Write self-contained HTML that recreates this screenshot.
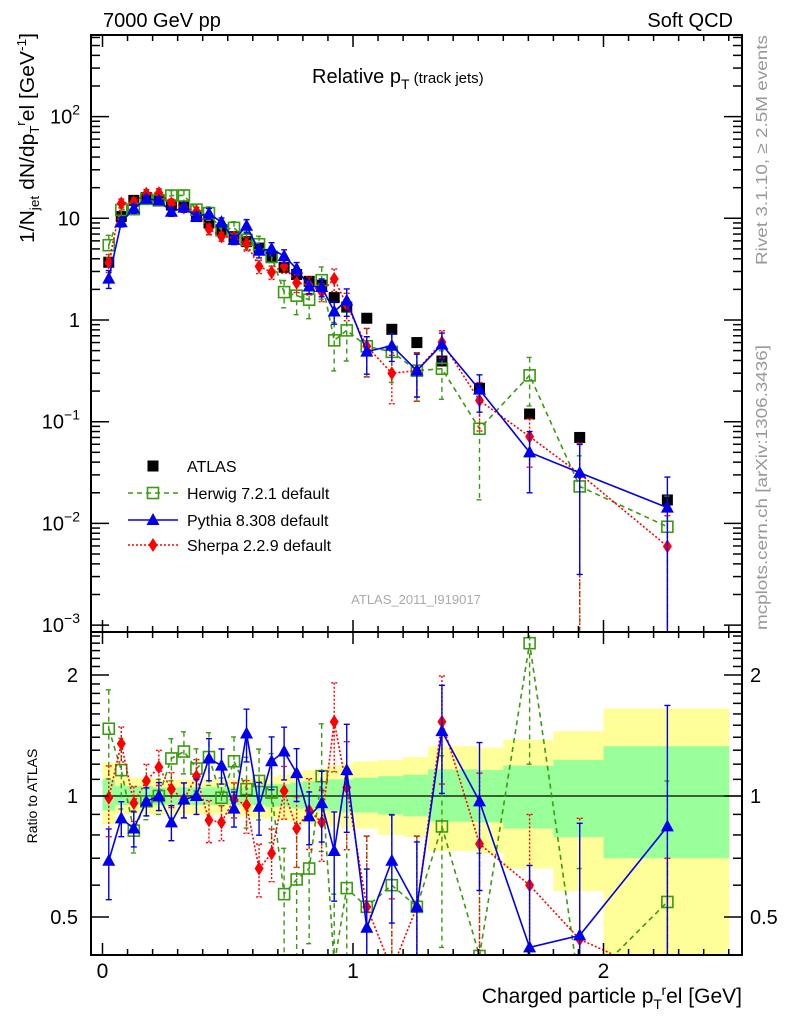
<!DOCTYPE html>
<html><head><meta charset="utf-8"><style>
html,body{margin:0;padding:0;background:#fff;overflow:hidden;width:786px;height:1024px}
svg{display:block;font-family:"Liberation Sans",Arial,sans-serif}
</style></head><body>
<svg id="chart" width="786" height="1024" viewBox="0 0 786 1024" xmlns="http://www.w3.org/2000/svg">
<defs>
<clipPath id="clipMain"><rect x="91" y="35" width="651" height="597"/></clipPath>
<clipPath id="clipRatio"><rect x="91" y="632" width="651" height="323"/></clipPath>
</defs>
<g id="bands" clip-path="url(#clipRatio)"></g>
<g id="ratio" clip-path="url(#clipRatio)"></g>
<g id="main" clip-path="url(#clipMain)"></g>
<g id="axes"></g>
<text x="103" y="27" font-size="20">7000 GeV pp</text>
<text x="733" y="27" font-size="20" text-anchor="end">Soft QCD</text>
<text x="312" y="83" font-size="20">Relative p<tspan font-size="14" dy="6">T</tspan><tspan font-size="15" dy="-6"> (track jets)</tspan></text>
<text transform="translate(767,265) rotate(-90)" font-size="16" fill="#999" textLength="230" lengthAdjust="spacingAndGlyphs">Rivet 3.1.10, ≥ 2.5M events</text>
<text transform="translate(767,630) rotate(-90)" font-size="16" fill="#999" textLength="285" lengthAdjust="spacingAndGlyphs">mcplots.cern.ch [arXiv:1306.3436]</text>
<text x="416" y="604" font-size="13" fill="#aaa" text-anchor="middle">ATLAS_2011_I919017</text>
<text transform="translate(34,33) rotate(-90)" font-size="20" text-anchor="end" textLength="210" lengthAdjust="spacingAndGlyphs">1/N<tspan font-size="13" dy="5">jet</tspan><tspan dy="-5"> dN/dp</tspan><tspan font-size="13" dy="5">T</tspan><tspan font-size="13" dy="-14">r</tspan><tspan dy="9">el [GeV</tspan><tspan font-size="13" dy="-8">-1</tspan><tspan dy="8">]</tspan></text>
<text transform="translate(37,796) rotate(-90)" font-size="14" text-anchor="middle">Ratio to ATLAS</text>
<text x="742" y="1003" font-size="21" text-anchor="end">Charged particle p<tspan font-size="14" dy="6">T</tspan><tspan font-size="14" dy="-14">r</tspan><tspan dy="8">el [GeV]</tspan></text>
<g id="legend"></g>
</svg>
<script>
const xs=[0.025,0.075,0.125,0.175,0.225,0.275,0.325,0.375,0.425,0.475,0.525,0.575,0.625,0.675,0.725,0.775,0.825,0.875,0.925,0.975,1.055,1.155,1.255,1.355,1.505,1.705,1.905,2.255];
const atlas=[3.7,10.4,15,16,15,13.5,13,10.4,9,7.7,6.6,5.9,5.1,4.1,3.3,2.8,2.4,2.2,1.66,1.34,1.04,0.81,0.60,0.395,0.213,0.119,0.070,0.017];
const herwigRatio=[1.47,1.16,0.82,0.97,1.0,1.24,1.29,1.17,1.25,0.99,1.22,1.04,1.09,1.02,0.57,0.62,0.66,1.12,0.38,0.59,0.53,0.60,0.53,0.84,0.40,2.4,0.33,0.545];
const pythiaRatio=[0.69,0.88,0.83,0.97,1.0,0.86,0.98,1.0,1.24,1.19,0.93,1.43,0.94,1.22,1.29,1.14,0.89,0.96,0.73,1.16,0.47,0.69,0.53,1.45,0.97,0.42,0.45,0.84];
const sherpaRatio=[0.99,1.35,0.96,1.09,1.18,1.04,0.98,1.12,0.87,0.86,0.98,0.95,0.66,0.72,1.03,0.83,0.92,0.86,1.53,1.05,0.53,0.37,0.53,1.53,0.76,0.60,0.44,0.35];
const herwigErr=[0.25,0.2,0.12,0.1,0.1,0.12,0.12,0.12,0.15,0.12,0.15,0.2,0.2,0.25,0.3,0.35,0.35,0.35,0.5,0.5,0.5,0.5,0.5,0.5,0.8,0.5,1,1];
const pythiaErr=[0.2,0.1,0.1,0.08,0.08,0.1,0.1,0.1,0.12,0.1,0.1,0.15,0.15,0.15,0.15,0.15,0.15,0.2,0.25,0.3,0.4,0.3,0.45,0.3,0.4,0.6,0.9,1.0];
const sherpaErr=[0.2,0.1,0.1,0.1,0.1,0.1,0.1,0.1,0.12,0.1,0.1,0.15,0.15,0.15,0.15,0.2,0.2,0.2,0.25,0.3,0.5,0.5,0.5,0.3,0.5,0.5,1,1];
const bandEdges=[0,0.05,0.1,0.15,0.2,0.25,0.3,0.35,0.4,0.45,0.5,0.55,0.6,0.65,0.7,0.75,0.8,0.85,0.9,0.95,1.0,1.1,1.2,1.3,1.5,1.6,1.8,2.0,2.5];
const yellowUp=[1.21,1.12,1.11,1.11,1.10,1.10,1.10,1.10,1.10,1.10,1.10,1.10,1.11,1.12,1.13,1.15,1.16,1.17,1.19,1.20,1.22,1.23,1.25,1.33,1.32,1.38,1.45,1.65];
const yellowDn=[0.85,0.90,0.90,0.90,0.90,0.90,0.90,0.90,0.90,0.90,0.89,0.89,0.88,0.88,0.87,0.86,0.85,0.85,0.84,0.83,0.83,0.80,0.79,0.73,0.72,0.66,0.58,0.30];
const greenUp=[1.10,1.06,1.06,1.06,1.05,1.05,1.05,1.05,1.05,1.05,1.05,1.05,1.06,1.07,1.07,1.08,1.09,1.09,1.10,1.10,1.11,1.12,1.13,1.165,1.16,1.19,1.23,1.33];
const greenDn=[0.92,0.95,0.95,0.95,0.95,0.95,0.95,0.95,0.95,0.95,0.95,0.95,0.95,0.94,0.94,0.93,0.93,0.92,0.92,0.91,0.91,0.90,0.89,0.863,0.86,0.83,0.79,0.70];
const xTicks=[0,1,2];
const mainYTicks=[2,1,0,-1,-2,-3];
const ratioTicks=[2,1,0.5];

const NS="http://www.w3.org/2000/svg";
const X=v=>102.5+250.5*v;
const YM=v=>320-101.7*Math.log10(v);
const YR=r=>796-121*Math.log2(r);
function el(tag,attrs,parent){const e=document.createElementNS(NS,tag);for(const k in attrs)e.setAttribute(k,attrs[k]);parent.appendChild(e);return e;}
const gB=document.getElementById('bands'),gR=document.getElementById('ratio'),gM=document.getElementById('main'),gA=document.getElementById('axes'),gL=document.getElementById('legend');

for(let i=0;i<yellowUp.length;i++){
  const x0=X(bandEdges[i]),x1=X(bandEdges[i+1]);
  const y=el('rect',{x:x0,y:YR(yellowUp[i]),width:x1-x0+0.5,height:YR(yellowDn[i])-YR(yellowUp[i]),fill:'#ffff99'},gB);
  
  
  const g=el('rect',{x:x0,y:YR(greenUp[i]),width:x1-x0+0.5,height:YR(greenDn[i])-YR(greenUp[i]),fill:'#99ff99'},gB);
  
  
}
const one=el('line',{x1:91,x2:742,y1:YR(1),y2:YR(1),stroke:'#000','stroke-width':1.2},gR);



function marker(kind,cx,cy,color,parent){
  let m;
  if(kind==='sq') m=el('rect',{x:cx-5.5,y:cy-5.5,width:11,height:11,fill:'none',stroke:color,'stroke-width':1.6},parent);
  else if(kind==='tri') m=el('polygon',{points:`${cx},${cy-7} ${cx-6.5},${cy+5} ${cx+6.5},${cy+5}`,fill:color},parent);
  else if(kind==='dia') m=el('polygon',{points:`${cx},${cy-7} ${cx+4.5},${cy} ${cx},${cy+7} ${cx-4.5},${cy}`,fill:color},parent);
  else m=el('rect',{x:cx-5.5,y:cy-5.5,width:11,height:11,fill:color},parent);
  return m;
}
const series=[
 {name:'herwig',ratio:herwigRatio,err:herwigErr,color:'#3a9a10',dash:'5,4',kind:'sq'},
 {name:'sherpa',ratio:sherpaRatio,err:sherpaErr,color:'#ff0000',dash:'2,2',kind:'dia'},
 {name:'pythia',ratio:pythiaRatio,err:pythiaErr,color:'#0000ee',dash:'',kind:'tri'}
];
function drawSeries(s,parent,ymap,valFn,panel){
  const pts=xs.map((x,i)=>[X(x),ymap(valFn(i))]);
  const pl=el('polyline',{points:pts.map(p=>p.join(',')).join(' '),fill:'none',stroke:s.color,'stroke-width':1.6,'stroke-dasharray':s.dash},parent);
  
  
  xs.forEach((x,i)=>{
    const v=valFn(i),e=s.err[i];
    const lo=Math.max(v*(1-e),1e-6),hi=v*(1+e);
    const cx=X(x);
    const eb=el('path',{d:`M${cx},${ymap(hi)}V${ymap(lo)}M${cx-3},${ymap(hi)}h6M${cx-3},${ymap(lo)}h6`,stroke:s.color,'stroke-width':1.4,fill:'none','stroke-dasharray':s.dash},parent);
    
    
    const m=marker(s.kind,cx,ymap(v),s.color,parent);
    
    
  });
}
series.forEach(s=>drawSeries(s,gR,YR,i=>s.ratio[i],'ratio'));
xs.forEach((x,i)=>{
  const m=marker('atlas',X(x),YM(atlas[i]),'#000',gM);
  
  
});
series.forEach(s=>drawSeries(s,gM,YM,i=>atlas[i]*s.ratio[i],'main'));

[[35,632],[632,955]].forEach(([t,b],k)=>{
  const f=el('rect',{x:91,y:t,width:651,height:b-t,fill:'none',stroke:'#000','stroke-width':2},gA);
  
  
  for(let v=0;v<=2.5001;v+=0.1){
    const major=Math.abs(v-Math.round(v))<1e-6;const L=major?12:6;
    el('line',{x1:X(v),x2:X(v),y1:b,y2:b-L,stroke:'#000','stroke-width':1.5},gA);
    el('line',{x1:X(v),x2:X(v),y1:t,y2:t+L,stroke:'#000','stroke-width':1.5},gA);
  }
});
xTicks.forEach(v=>{
  const t=el('text',{x:X(v),y:978,'font-size':21,'text-anchor':'middle'},gA);t.textContent=v;
  
  
});
for(let d=-3;d<=2;d++){
  for(let m=1;m<10;m++){
    const v=m*Math.pow(10,d);const y=YM(v);if(y<35)continue;
    const L=m===1?18:9;
    el('line',{x1:91,x2:91+L,y1:y,y2:y,stroke:'#000','stroke-width':1.5},gA);
    el('line',{x1:742,x2:742-L,y1:y,y2:y,stroke:'#000','stroke-width':1.5},gA);
  }
}
mainYTicks.forEach(d=>{
  const t=el('text',{x:80,y:YM(Math.pow(10,d))+7,'font-size':20,'text-anchor':'end'},gA);
  
  
  if(d===0)t.textContent='1';else if(d===1)t.textContent='10';
  else{t.textContent='10';const s=document.createElementNS(NS,'tspan');s.setAttribute('font-size',14);s.setAttribute('dy',-9);s.textContent=d<0?'\u2212'+(-d):d;t.appendChild(s);}
});
for(let r=0.4;r<=2.6;r+=0.1){
  const y=YR(r);if(y<632||y>955)continue;
  const major=[0.5,1,2].some(q=>Math.abs(q-r)<1e-6);const L=major?18:9;
  el('line',{x1:91,x2:91+L,y1:y,y2:y,stroke:'#000','stroke-width':1.5},gA);
  el('line',{x1:742,x2:742-L,y1:y,y2:y,stroke:'#000','stroke-width':1.5},gA);
}
ratioTicks.forEach(r=>{
  const a=el('text',{x:78,y:YR(r)+7,'font-size':20,'text-anchor':'end'},gA);a.textContent=r;
  
  
  const b=el('text',{x:750,y:YR(r)+7,'font-size':20},gA);b.textContent=r;
  
  
});
const leg=[['ATLAS','atlas','#000','',466],['Herwig 7.2.1 default','sq','#3a9a10','5,4',493],['Pythia 8.308 default','tri','#0000ee','',520],['Sherpa 2.2.9 default','dia','#ff0000','2,2',545]];
leg.forEach(([label,kind,col,dash,y])=>{
  const g=el('g',{},gL);
  
  
  if(kind!=='atlas'){el('line',{x1:128,x2:178,y1:y,y2:y,stroke:col,'stroke-width':1.6,'stroke-dasharray':dash},g);}
  marker(kind,153,y,col,g);
  const t=el('text',{x:187,y:y+6,'font-size':16},g);t.textContent=label;
});
</script>
</body></html>
